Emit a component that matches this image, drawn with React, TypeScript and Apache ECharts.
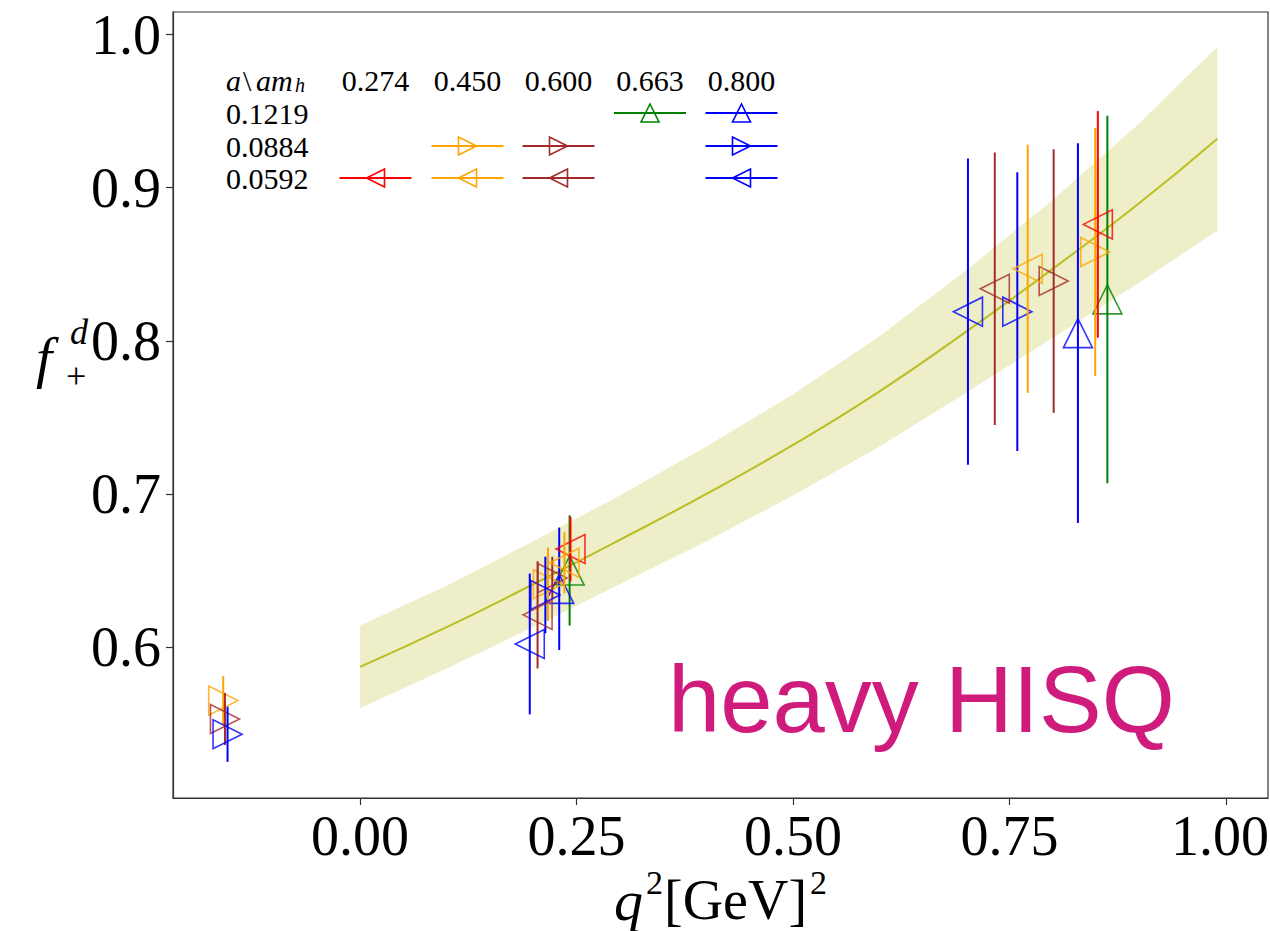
import React, { useEffect, useRef } from "react";
import * as echarts from "echarts";

// Axis tick positions
const xTicks = [0, 0.25, 0.5, 0.75, 1.0];
const yTicks = [0.6, 0.7, 0.8, 0.9, 1.0];

// Fit curve and its error band, sampled along q^2
const fitQ2 = [0, 0.1, 0.2, 0.3, 0.4, 0.5, 0.6, 0.7, 0.8, 0.9, 0.99];
const fitCentral = [0.587, 0.613, 0.641, 0.67, 0.7, 0.732, 0.767, 0.806, 0.847, 0.89, 0.932];
const fitUpper = [0.614, 0.64, 0.669, 0.699, 0.731, 0.765, 0.803, 0.846, 0.892, 0.942, 0.992];
const fitLower = [0.56, 0.586, 0.613, 0.641, 0.669, 0.699, 0.731, 0.766, 0.802, 0.838, 0.872];

// Lattice points per ensemble: [q^2, f_+, error]
const ens1219_663 = [[0.242, 0.65, 0.036], [0.863, 0.827, 0.12]];
const ens1219_800 = [[0.23, 0.638, 0.04], [0.829, 0.805, 0.124]];
const ens0884_450 = [[-0.158, 0.565, 0.016], [0.217, 0.641, 0.024], [0.849, 0.858, 0.081]];
const ens0884_600 = [[-0.156, 0.553, 0.017], [0.222, 0.645, 0.014], [0.801, 0.839, 0.086]];
const ens0884_800 = [[-0.153, 0.543, 0.018], [0.214, 0.634, 0.025], [0.759, 0.819, 0.091]];
const ens0592_274 = [[0.243, 0.664, 0.021], [0.852, 0.876, 0.074]];
const ens0592_450 = [[0.236, 0.655, 0.02], [0.771, 0.847, 0.081]];
const ens0592_600 = [[0.205, 0.621, 0.035], [0.733, 0.834, 0.089]];
const ens0592_800 = [[0.196, 0.602, 0.046], [0.702, 0.819, 0.1]];

// Legend table labels
const spacingLabels = ["0.1219", "0.0884", "0.0592"];
const massLabels = ["0.274", "0.450", "0.600", "0.663", "0.800"];

type Marker = "up" | "left" | "right";
const ensembles: { data: number[][]; a: string; amh: string; color: string; marker: Marker }[] = [
  { data: ens1219_663, a: "0.1219", amh: "0.663", color: "#008000", marker: "up" },
  { data: ens1219_800, a: "0.1219", amh: "0.800", color: "#0000ff", marker: "up" },
  { data: ens0884_450, a: "0.0884", amh: "0.450", color: "#ffa500", marker: "right" },
  { data: ens0884_600, a: "0.0884", amh: "0.600", color: "#a52a2a", marker: "right" },
  { data: ens0884_800, a: "0.0884", amh: "0.800", color: "#0000ff", marker: "right" },
  { data: ens0592_274, a: "0.0592", amh: "0.274", color: "#ff0000", marker: "left" },
  { data: ens0592_450, a: "0.0592", amh: "0.450", color: "#ffa500", marker: "left" },
  { data: ens0592_600, a: "0.0592", amh: "0.600", color: "#a52a2a", marker: "left" },
  { data: ens0592_800, a: "0.0592", amh: "0.800", color: "#0000ff", marker: "left" },
];

const SERIF = "'Liberation Serif', 'DejaVu Serif', serif";
const SANS = "'Liberation Sans', Arial, sans-serif";
const rotation: Record<Marker, number> = { up: 0, left: 90, right: -90 };

function txt(
  text: string,
  x: number,
  y: number,
  size: number,
  opts: { italic?: boolean; align?: string; color?: string; family?: string; lineHeight?: number } = {}
) {
  const align = opts.align || "left";
  return {
    type: "text",
    x,
    y,
    z: 100,
    style: {
      text,
      fill: opts.color || "#000",
      fontSize: size,
      fontFamily: opts.family || SERIF,
      fontStyle: opts.italic ? "italic" : "normal",
      lineHeight: opts.lineHeight || size,
      align,
      textAlign: align,
      verticalAlign: "middle",
      textVerticalAlign: "middle",
    },
  };
}

function triangle(cx: number, cy: number, h: number, marker: Marker): number[][] {
  if (marker === "up") return [[cx, cy - h], [cx + h, cy + h], [cx - h, cy + h]];
  if (marker === "left") return [[cx - h, cy], [cx + h, cy - h], [cx + h, cy + h]];
  return [[cx + h, cy], [cx - h, cy - h], [cx - h, cy + h]];
}

function buildLegend() {
  const colX = [375.5, 467.5, 558.5, 650, 741.5];
  const rowY = [113, 146, 178];
  const headerY = 80;
  const fs = 30;
  const lh = 28;
  const els: any[] = [];
  els.push(txt("a", 226, headerY, fs, { italic: true, lineHeight: lh }));
  els.push(txt("\\", 243, headerY, fs, { lineHeight: lh }));
  els.push(txt("am", 256, headerY, fs, { italic: true, lineHeight: lh }));
  els.push(txt("h", 295, headerY + 5, 20, { italic: true, lineHeight: 16 }));
  massLabels.forEach((m, i) => els.push(txt(m, colX[i], headerY, fs, { align: "center", lineHeight: lh })));
  spacingLabels.forEach((s, j) => els.push(txt(s, 226, rowY[j], fs, { lineHeight: lh })));
  ensembles.forEach((e) => {
    const cx = colX[massLabels.indexOf(e.amh)];
    const cy = rowY[spacingLabels.indexOf(e.a)];
    els.push({
      type: "line",
      z: 100,
      shape: { x1: cx - 36, y1: cy, x2: cx + 36, y2: cy },
      style: { stroke: e.color, lineWidth: 2 },
    });
    els.push({
      type: "polygon",
      z: 101,
      shape: { points: triangle(cx, cy, 9, e.marker) },
      style: { fill: "none", stroke: e.color, lineWidth: 1.6 },
    });
  });
  return els;
}

function buildOption(): any {
  const series: any[] = [];

  // error band of the fit
  series.push({
    type: "custom",
    silent: true,
    z: 1,
    data: [[0, 0.6]],
    encode: { x: 0, y: 1 },
    renderItem: (_p: any, api: any) => {
      const up = fitQ2.map((q, i) => api.coord([q, fitUpper[i]]));
      const lo = fitQ2.map((q, i) => api.coord([q, fitLower[i]])).reverse();
      return {
        type: "polygon",
        shape: { points: up.concat(lo) },
        style: { fill: "rgba(188,189,34,0.25)", stroke: "none" },
      };
    },
  });

  // central fit line
  series.push({
    type: "line",
    silent: true,
    z: 2,
    data: fitQ2.map((q, i) => [q, fitCentral[i]]),
    smooth: true,
    showSymbol: false,
    lineStyle: { color: "#bcbd22", width: 2 },
  });

  ensembles.forEach((e, k) => {
    series.push({
      type: "custom",
      silent: true,
      z: 3 + k * 0.01,
      data: e.data,
      encode: { x: 0, y: 1 },
      renderItem: (_p: any, api: any) => {
        const x = api.value(0);
        const y = api.value(1);
        const err = api.value(2);
        const top = api.coord([x, y + err]);
        const bot = api.coord([x, y - err]);
        return {
          type: "line",
          shape: { x1: top[0], y1: top[1], x2: bot[0], y2: bot[1] },
          style: { stroke: e.color, lineWidth: 2 },
        };
      },
    });
    series.push({
      type: "scatter",
      silent: true,
      z: 3 + k * 0.01 + 0.005,
      data: e.data.map((d) => [d[0], d[1]]),
      symbol: "triangle",
      symbolSize: 29,
      symbolRotate: rotation[e.marker],
      itemStyle: { color: "rgba(0,0,0,0)", borderColor: e.color, borderWidth: 1.6 },
    });
  });

  const axisText = { fontSize: 56, fontFamily: SERIF, color: "#000" };
  const lastX = xTicks[xTicks.length - 1];

  return {
    animation: false,
    backgroundColor: "#fff",
    grid: {
      left: 173,
      right: 2,
      top: 12,
      bottom: 133,
      show: true,
      borderColor: "#333",
      borderWidth: 1.2,
      backgroundColor: "transparent",
      containLabel: false,
      outerBoundsMode: "none",
    },
    xAxis: {
      type: "value",
      min: -0.216,
      max: 1.0485,
      axisLine: { show: true, onZero: false, lineStyle: { color: "#333", width: 1.2 } },
      axisTick: { show: true, customValues: xTicks, length: 7, lineStyle: { color: "#333", width: 1.2 } },
      axisLabel: {
        customValues: xTicks,
        // the rightmost label is nudged inward so it stays on the page
        formatter: (v: number) => (v === lastX ? `{edge|${v.toFixed(2)}}` : v.toFixed(2)),
        rich: { edge: { ...axisText, padding: [0, 12, 0, 0] } },
        margin: 10,
        hideOverlap: false,
        ...axisText,
      },
      splitLine: { show: false },
    },
    yAxis: {
      type: "value",
      min: 0.5014,
      max: 1.0147,
      axisLine: { show: true, onZero: false, lineStyle: { color: "#333", width: 1.2 } },
      axisTick: { show: true, customValues: yTicks, length: 7, lineStyle: { color: "#333", width: 1.2 } },
      axisLabel: {
        customValues: yTicks,
        formatter: (v: number) => v.toFixed(1),
        margin: 12,
        ...axisText,
      },
      splitLine: { show: false },
    },
    graphic: {
      elements: [
        // y axis title f_+^d
        txt("f", 36, 357, 58, { italic: true }),
        txt("d", 70, 332, 36, { italic: true, lineHeight: 30 }),
        txt("+", 66, 376, 36, { lineHeight: 30 }),
        // x axis title q^2 [GeV]^2
        txt("q", 614, 900, 58, { italic: true }),
        txt("2", 646, 882, 34, { lineHeight: 28 }),
        txt("[GeV]", 664, 900, 56),
        txt("2", 810, 882, 34, { lineHeight: 28 }),
        // annotation
        txt("heavy HISQ", 668, 699, 94, { color: "#cf1c7c", family: SANS }),
        ...buildLegend(),
      ],
    },
    series,
  };
}

export default function App() {
  const ref = useRef<HTMLDivElement>(null);
  useEffect(() => {
    if (!ref.current) return;
    const chart = echarts.init(ref.current, null, { renderer: "svg" });
    chart.setOption(buildOption());
    return () => chart.dispose();
  }, []);
  return (
    <div
      ref={ref}
      style={{ position: "fixed", left: 0, top: 0, width: 1270, height: 931, background: "#fff" }}
    />
  );
}
